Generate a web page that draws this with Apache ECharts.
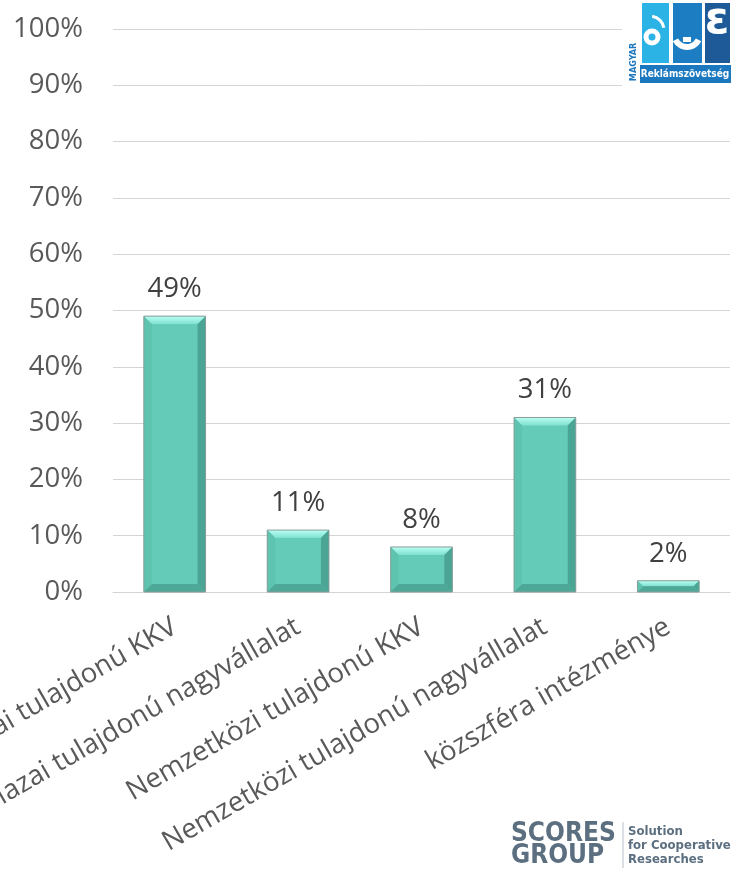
<!DOCTYPE html>
<html>
<head>
<meta charset="utf-8">
<script src="https://cdn.jsdelivr.net/npm/echarts@6/dist/echarts.min.js"></script>
<style>
  html, body { margin: 0; padding: 0; background: #ffffff; }
  #chart { width: 733px; height: 873px; }
</style>
</head>
<body>
<div id="chart"></div>
<script>
// Categories and shares (percent)
const categories = [
  'Hazai tulajdonú KKV',
  'Hazai tulajdonú nagyvállalat',
  'Nemzetközi tulajdonú KKV',
  'Nemzetközi tulajdonú nagyvállalat',
  'közszféra intézménye'
];
const shares = [49, 11, 8, 31, 2];
const yTicks = [0, 10, 20, 30, 40, 50, 60, 70, 80, 90, 100];

const FONT = '"Open Sans", "Liberation Sans", sans-serif';
const FS = 27.5;

// Bevelled bar drawn from the axis coordinates
function renderBevelBar(params, api) {
  const idx = api.value(0);
  const val = api.value(1);
  const top = api.coord([idx, val]);
  const base = api.coord([idx, 0]);
  const w = api.size([1, 0])[0] * 0.5;
  const x0 = top[0] - w / 2, x1 = top[0] + w / 2;
  const y0 = top[1], y1 = base[1];
  const h = y1 - y0;
  const b = Math.max(1, Math.min(8, h / 2, w / 4));
  const children = [
    { type: 'rect', shape: { x: x0, y: y0, width: w, height: h },
      style: { fill: '#63cbb7' } },
    { type: 'polygon',
      shape: { points: [[x0, y0], [x1, y0], [x1 - b, y0 + b], [x0 + b, y0 + b]] },
      style: { fill: new echarts.graphic.LinearGradient(0, 0, 0, 1, [
        { offset: 0, color: '#b8fff3' }, { offset: 1, color: '#7fe0cf' }]) } },
    { type: 'polygon',
      shape: { points: [[x0, y0], [x0 + b, y0 + b], [x0 + b, y1 - b], [x0, y1]] },
      style: { fill: '#5ec4b0' } },
    { type: 'polygon',
      shape: { points: [[x1, y0], [x1, y1], [x1 - b, y1 - b], [x1 - b, y0 + b]] },
      style: { fill: '#4aa595' } },
    { type: 'polygon',
      shape: { points: [[x0, y1], [x0 + b, y1 - b], [x1 - b, y1 - b], [x1, y1]] },
      style: { fill: '#4ea898' } },
    { type: 'rect', shape: { x: x0, y: y0, width: w, height: h },
      style: { fill: null, stroke: '#8a9c98', lineWidth: 1 } },
    { type: 'text',
      style: { text: val + '%', x: top[0], y: y0 - 27, align: 'center', verticalAlign: 'middle',
        fill: '#404040', font: FS + 'px ' + FONT } }
  ];
  return { type: 'group', children: children };
}

const chart = echarts.init(document.getElementById('chart'), null, { renderer: 'canvas' });

const logoBlue = '#1b78bf';
const scoresColor = '#5b6f80';
const COND = '"DejaVu Sans Condensed", "DejaVu Sans", sans-serif';

chart.setOption({
  animation: false,
  backgroundColor: '#ffffff',
  grid: { left: 113, right: 3, top: 29, bottom: 281, containLabel: false, outerBoundsMode: 'none' },
  xAxis: {
    type: 'category',
    data: categories,
    axisLine: { lineStyle: { color: '#d4d4d4', width: 1 } },
    axisTick: { show: false },
    axisLabel: {
      interval: 0, rotate: 30, margin: 33, hideOverlap: false,
      color: '#595959', fontSize: FS, fontFamily: FONT
    }
  },
  yAxis: {
    type: 'value',
    min: yTicks[0], max: yTicks[yTicks.length - 1], interval: yTicks[1] - yTicks[0],
    axisLine: { show: false },
    axisTick: { show: false },
    splitLine: { lineStyle: { color: '#d4d4d4', width: 1 } },
    axisLabel: {
      margin: 30, color: '#595959', fontSize: FS, fontFamily: FONT,
      formatter: '{value}%'
    }
  },
  series: [{
    type: 'custom',
    renderItem: renderBevelBar,
    encode: { x: 0, y: 1 },
    data: shares.map((v, i) => [i, v]),
    clip: false
  }],
  graphic: [
    // association logo, top right
    { type: 'rect', shape: { x: 622, y: 0, width: 111, height: 89 }, style: { fill: '#ffffff' }, z: 10 },
    { type: 'rect', shape: { x: 642, y: 3, width: 27, height: 60 }, style: { fill: '#2cb3e6' }, z: 11 },
    { type: 'rect', shape: { x: 673, y: 3, width: 29, height: 60 }, style: { fill: '#1c7dc3' }, z: 11 },
    { type: 'rect', shape: { x: 705, y: 3, width: 25, height: 60 }, style: { fill: '#1e5a98' }, z: 11 },
    { type: 'arc', shape: { cx: 652, cy: 37, r: 6, startAngle: 0, endAngle: Math.PI * 2 },
      style: { stroke: '#ffffff', lineWidth: 5, fill: null }, z: 12 },
    { type: 'arc', shape: { cx: 650, cy: 30, r: 14, startAngle: -Math.PI * 0.45, endAngle: -Math.PI * 0.05 },
      style: { stroke: '#ffffff', lineWidth: 3, fill: null }, z: 12 },
    { type: 'arc', shape: { cx: 687, cy: 34, r: 13, startAngle: Math.PI * 0.15, endAngle: Math.PI * 0.85 },
      style: { stroke: '#ffffff', lineWidth: 6, fill: null }, z: 12 },
    { type: 'rect', shape: { x: 683, y: 37, width: 8, height: 5 }, style: { fill: '#ffffff' }, z: 12 },
    { type: 'text', style: { text: 'ε', x: 717, y: 22, align: 'center', verticalAlign: 'middle',
        fill: '#ffffff', font: 'bold 44px "DejaVu Sans", sans-serif' }, z: 12 },
    { type: 'rect', shape: { x: 640, y: 65, width: 91, height: 18 }, style: { fill: logoBlue }, z: 11 },
    { type: 'text', style: { text: 'Reklámszövetség', x: 685, y: 74, align: 'center', verticalAlign: 'middle',
        fill: '#ffffff', font: 'bold 10px ' + COND }, z: 12 },
    { type: 'text', rotation: Math.PI / 2, x: 634, y: 62,
      style: { text: 'MAGYAR', x: 0, y: 0, align: 'center', verticalAlign: 'middle',
        fill: logoBlue, font: 'bold 9px ' + COND }, z: 12 },

    // research partner logo, bottom right
    { type: 'text', style: { text: 'SCORES', x: 511, y: 834, verticalAlign: 'middle',
        fill: scoresColor, font: 'bold 26px ' + COND }, z: 12 },
    { type: 'text', style: { text: 'GROUP', x: 511, y: 856, verticalAlign: 'middle',
        fill: scoresColor, font: 'bold 26px ' + COND }, z: 12 },
    { type: 'line', shape: { x1: 623, y1: 822, x2: 623, y2: 868 }, style: { stroke: '#b8c0c8', lineWidth: 1 }, z: 12 },
    { type: 'text', style: { text: 'Solution', x: 628, y: 832, verticalAlign: 'middle',
        fill: scoresColor, font: 'bold 13px ' + COND }, z: 12 },
    { type: 'text', style: { text: 'for Cooperative', x: 628, y: 846, verticalAlign: 'middle',
        fill: scoresColor, font: 'bold 13px ' + COND }, z: 12 },
    { type: 'text', style: { text: 'Researches', x: 628, y: 860, verticalAlign: 'middle',
        fill: scoresColor, font: 'bold 13px ' + COND }, z: 12 }
  ]
});
</script>
</body>
</html>
